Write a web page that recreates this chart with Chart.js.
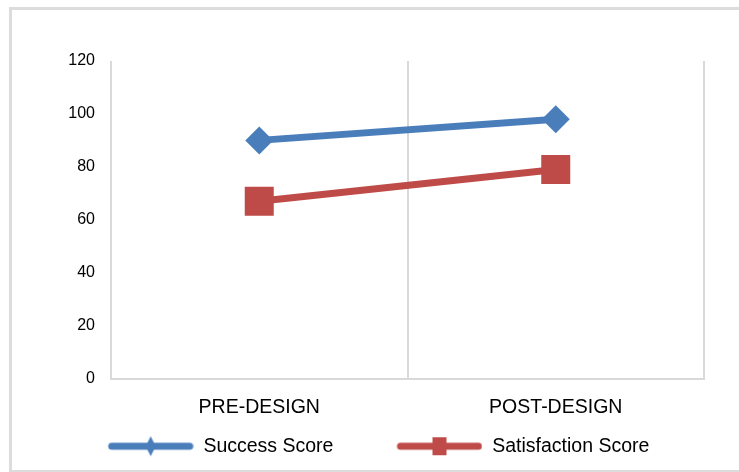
<!DOCTYPE html>
<html>
<head>
<meta charset="utf-8">
<script src="https://cdn.jsdelivr.net/npm/chart.js@4"></script>
<style>
    html, body { margin: 0; padding: 0; background: #fff; overflow: hidden; }
    #wrap { position: relative; width: 739px; height: 472px; }
    /* moldura cinza em volta do gráfico */
    #frame { position: absolute; left: 9px; top: 7px; width: 800px; height: 460px; border: 3px solid #dcdcdc; pointer-events: none; }
    #chart { position: absolute; left: 0; top: 0; }
</style>
</head>
<body>
<div id="wrap">
    <div id="frame"></div>
    <canvas id="chart" width="739" height="472"></canvas>
</div>
<script>
// --- DADOS ---
const categories = ['PRE-DESIGN', 'POST-DESIGN'];
const successScore = [90, 98];
const satisfactionScore = [67, 79];
const yTicks = [0, 20, 40, 60, 80, 100, 120];

const BLUE = '#4a7ebb';
const RED = '#be4b48';
const FONT = "'Liberation Sans', Arial, sans-serif";

// Desenha o símbolo da legenda (linha + marcador) num canvas pequeno
function legendGlyph(color, marker) {
    const c = document.createElement('canvas');
    c.width = 139;
    c.height = 24;
    const g = c.getContext('2d');
    const x0 = 53, x1 = 139, cy = 12;
    g.strokeStyle = color;
    g.lineWidth = 7;
    g.lineCap = 'round';
    g.beginPath();
    g.moveTo(x0 + 4, cy);
    g.lineTo(x1 - 4, cy);
    g.stroke();
    g.fillStyle = color;
    const mx = (x0 + x1) / 2;
    if (marker === 'diamond') {
        g.beginPath();
        g.moveTo(mx, cy - 10);
        g.lineTo(mx + 5, cy);
        g.lineTo(mx, cy + 10);
        g.lineTo(mx - 5, cy);
        g.closePath();
        g.fill();
    } else {
        g.fillRect(mx - 7, cy - 9, 14, 18);
    }
    return c;
}

const glyphs = [legendGlyph(BLUE, 'diamond'), legendGlyph(RED, 'square')];

new Chart(document.getElementById('chart'), {
    type: 'line',
    data: {
        labels: categories,
        datasets: [
            {
                label: 'Success Score',
                data: successScore,
                borderColor: BLUE,
                backgroundColor: BLUE,
                borderWidth: 7,
                pointStyle: 'rectRot',
                pointRadius: 14,
                pointHoverRadius: 14,
                pointBorderWidth: 0
            },
            {
                label: 'Satisfaction Score',
                data: satisfactionScore,
                borderColor: RED,
                backgroundColor: RED,
                borderWidth: 7,
                pointStyle: 'rect',
                pointRadius: 20.5,
                pointHoverRadius: 20.5,
                pointBorderWidth: 0
            }
        ]
    },
    options: {
        responsive: false,
        animation: false,
        layout: { padding: { left: 0, right: 35, top: 61, bottom: 6 } },
        plugins: {
            tooltip: { enabled: false },
            legend: {
                position: 'bottom',
                labels: {
                    usePointStyle: true,
                    pointStyleWidth: 139,
                    color: '#000',
                    font: { family: FONT, size: 19.5 },
                    generateLabels(chart) {
                        const items = Chart.defaults.plugins.legend.labels.generateLabels(chart);
                        items.forEach((it, i) => { it.pointStyle = glyphs[i]; });
                        return items;
                    }
                }
            }
        },
        scales: {
            x: {
                offset: true,
                grid: { offset: true, color: '#d9d9d9', lineWidth: 2, drawTicks: false },
                border: { color: '#d9d9d9', width: 2 },
                ticks: { color: '#000', padding: 17, font: { family: FONT, size: 19.5 } },
                afterFit(s) { s.height = 48; }
            },
            y: {
                min: 0,
                max: 120,
                afterBuildTicks(s) { s.ticks = yTicks.map(v => ({ value: v })); },
                grid: { display: false, drawTicks: false },
                border: { display: false },
                ticks: { color: '#000', padding: 16, font: { family: FONT, size: 16 } },
                afterFit(s) { s.width = 111; }
            }
        }
    }
});
</script>
</body>
</html>
